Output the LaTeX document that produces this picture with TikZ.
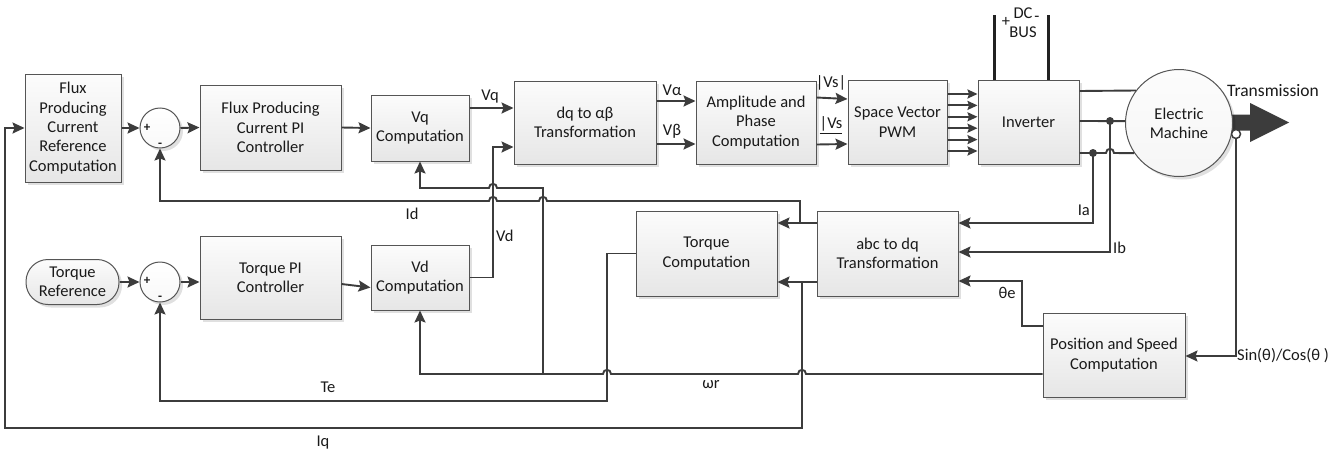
\documentclass[tikz,border=0pt]{standalone}
\usepackage{fontspec}
\setmainfont{Carlito}
\usetikzlibrary{arrows.meta,shadows,calc}
\definecolor{ln}{HTML}{3C3C3C}
\definecolor{bd}{HTML}{555555}
\definecolor{tx}{HTML}{1A1A1A}
\definecolor{ftop}{HTML}{FCFCFC}
\definecolor{fbot}{HTML}{E6E6E6}
\definecolor{busc}{HTML}{222222}

% line hops over a vertical line at x=#1 on a horizontal run at y=#2
\newcommand\hopL[2]{-- (#1+4,#2) .. controls (#1+4,#2-5.5) and (#1-4,#2-5.5) .. (#1-4,#2)}
\newcommand\hopR[2]{-- (#1-4,#2) .. controls (#1-4,#2-5.5) and (#1+4,#2-5.5) .. (#1+4,#2)}

\tikzset{
  txt/.style={font=\fontsize{16.5}{19.3}\selectfont, text=tx},
  lbl/.style={txt, inner sep=0pt},
  sgn/.style={font=\fontsize{13}{13}\selectfont\bfseries, text=tx, inner sep=0pt},
  shd/.style={drop shadow={shadow xshift=3pt, shadow yshift=-3pt, fill=black, opacity=0.12}},
  blk/.style={txt, draw=bd, line width=1pt, top color=ftop, bottom color=fbot,
              align=center, inner sep=2pt, shd},
  sumc/.style={circle, draw=bd, line width=1pt, top color=white, bottom color=ftop!85!fbot,
               minimum size=40pt, inner sep=0pt, shd},
  conn/.style={draw=ln, line width=1.9pt},
  arr/.style={conn, -{Stealth[length=12pt,width=11pt,inset=2pt]}},
  sarr/.style={conn, -{Stealth[length=10pt,width=9pt,inset=1.5pt]}},
  jdot/.style={circle, fill=ln, inner sep=0pt, minimum size=8pt},
  bus/.style={draw=busc, line width=3pt},
}

\begin{document}
\begin{tikzpicture}[x=1pt,y=-1pt]
\useasboundingbox (0,0) rectangle (1330,450);
\fill[white] (0,0) rectangle (1330,450);

% output shaft of the machine
\fill[ln] (1200,114.5) -- (1250,114.5) -- (1250,103) -- (1289,122.5)
          -- (1250,142) -- (1250,130.5) -- (1200,130.5) -- cycle;
\node[txt, font=\fontsize{17.5}{20}\selectfont, inner sep=0pt] (trl) at (1273,91) {Transmission};

% ---------- flux (d) channel ----------
\node[blk, minimum width=96pt, minimum height=108pt] (fref) at (73,128)
  {Flux\\Producing\\Current\\Reference\\Computation};
\node[sumc] (s1) at (160,128) {};
\node[sgn] (s1p) at (147,128) {+};
\node[sgn] (s1m) at (160,145) {-};
\node[blk, minimum width=141pt, minimum height=85pt] (fpi) at (270.5,127.5)
  {Flux Producing\\Current PI\\Controller};
\node[blk, minimum width=98pt, minimum height=66pt] (vq) at (420,128) {Vq\\Computation};
\node[blk, minimum width=142pt, minimum height=83pt] (dq) at (585,122.5) {dq to αβ\\Transformation};
\node[blk, minimum width=120pt, minimum height=83pt] (amp) at (756,122.5) {Amplitude and\\Phase\\Computation};
\node[blk, minimum width=99pt, minimum height=84pt] (svm) at (897.5,122) {Space Vector\\PWM};
\node[blk, minimum width=101pt, minimum height=84pt] (inv) at (1028.5,122) {Inverter};
\node[blk, circle, minimum size=107pt, inner sep=0pt, top color=ftop, bottom color=ftop!70!fbot] (em) at (1179,123) {Electric\\Machine};

% ---------- torque (q) channel ----------
\node[blk, rounded corners=22pt, minimum width=93pt, minimum height=45pt] (tref) at (72.5,282)
  {Torque\\Reference};
\node[sumc] (s2) at (160,282) {};
\node[sgn] (s2p) at (147,281) {+};
\node[sgn] (s2m) at (160,298) {-};
\node[blk, minimum width=141pt, minimum height=83pt] (tpi) at (270.5,277.5) {Torque PI\\Controller};
\node[blk, minimum width=98pt, minimum height=65pt] (vd) at (420,277.5) {Vd\\Computation};
\node[blk, minimum width=141pt, minimum height=85pt] (tc) at (706.5,253.5) {Torque\\Computation};
\node[blk, minimum width=141pt, minimum height=85pt] (abc) at (887.5,253.5) {abc to dq\\Transformation};
\node[blk, minimum width=142pt, minimum height=84pt] (pos) at (1114,355) {Position and Speed\\Computation};

% encoder tap on the shaft
\node[circle, draw=ln, fill=white, line width=1.5pt, minimum size=9pt, inner sep=0pt] (enc) at (1236,134) {};

% DC bus
\coordinate (dcp) at (994,15);
\coordinate (dcn) at (1048,15);
\draw[bus] (dcp) -- (dcp |- inv.north);
\draw[bus] (dcn) -- (dcn |- inv.north);
\node[lbl] (dcplus) at (1006,22) {+};
\node[lbl] (dcl) at (1023,13) {DC};
\node[lbl] (dcminus) at (1037,19) {-};
\node[lbl] (busl) at (1023,32) {BUS};

% ---------- forward path ----------
\draw[arr] (fref.east) -- (s1.west);
\draw[arr] (s1.east) -- (fpi.west);
\draw[arr] (fpi.east) -- (vq.west);
\draw[arr] ([yshift=20pt]vq.east) -- ([yshift=14.5pt]dq.west);
\node[lbl] (vql) at (490,97) {Vq};

\coordinate (vdup) at (493,147);
\draw[arr] (vd.east) -| (vdup) -- (vdup -| dq.west);
\node[lbl, anchor=west] (vdl) at (496,236) {Vd};

\draw[arr] ([yshift=21.5pt]dq.east) -- ([yshift=21.5pt]amp.west);
\draw[arr] ([yshift=-21.5pt]dq.east) -- ([yshift=-21.5pt]amp.west);
\node[lbl] (val) at (672,90) {Vα};
\node[lbl] (vbl) at (672,131) {Vβ};

\draw[arr] ([yshift=25pt]amp.east) -- ([yshift=23pt]svm.west);
\draw[arr] ([yshift=-22pt]amp.east) -- ([yshift=-22pt]svm.west);
\node[lbl] (vsm) at (831,83) {|Vs|};
\node[lbl] (vsa) at (831,125) {\underline{|Vs}};

\foreach \k in {0,...,5}
  \draw[sarr] ([yshift=28pt-\k*11.4pt]svm.east) -- ([yshift=28pt-\k*11.4pt]inv.west);

\draw[arr] (tref.east) -- (s2.west);
\draw[arr] (s2.east) -- (s2.east -| tpi.west);
\draw[arr] ([yshift=-6.5pt]tpi.east) -- ([yshift=-10pt]vd.west);

% inverter phases to the machine
\node[jdot] (ibj) at (1110,121) {};
\node[jdot] (iaj) at (1093,153) {};
\draw[conn] ([yshift=31pt]inv.east) -- (em.143);
\draw[conn] ([yshift=1pt]inv.east) -- (em.178);
\draw[conn] ([yshift=-31pt]inv.east) \hopR{1110}{153} -- (em.214);

% ---------- measurements ----------
\coordinate (iac) at (1093,223);
\draw[arr] (iaj.center) -- (iac) -- (iac -| abc.east);
\node[lbl, anchor=east] (ial) at (1090,210) {Ia};
\coordinate (ibc) at (1110,252);
\draw[arr] (ibj.center) -- (ibc) -- (ibc -| abc.east);
\node[lbl, anchor=west] (ibl) at (1113,248) {Ib};

\coordinate (scc) at (1236,356);
\draw[arr] (enc.south) -- (scc) -- (scc -| pos.east);
\node[lbl, anchor=west] (scl) at (1237,356) {Sin(θ)/Cos(θ )};

\coordinate (thc1) at (1022,326);
\coordinate (thc2) at (1022,281);
\draw[arr] (thc1 -| pos.west) -- (thc1) -- (thc2) -- (thc2 -| abc.east);
\node[lbl] (thl) at (1007,293) {θe};

\coordinate (idj) at (800,223);
\coordinate (iqj) at (802,282);
\draw[arr] (abc.west |- idj) -- (tc.east |- idj);
\draw[arr] (abc.west |- iqj) -- (tc.east |- iqj);

% ---------- feedback ----------
\coordinate (idc) at (800,201);
\draw[arr] (idj) -- (idc) \hopL{543}{201} \hopL{493}{201} -- (idc -| s1.south) -- (s1.south);
\node[lbl] (idl) at (412,214) {Id};

\coordinate (iqc) at (802,428);
\coordinate (iqw) at (5,428);
\draw[arr] (iqj) -- (iqc) -- (iqw) -- (iqw |- fref.west) -- (fref.west);
\node[lbl] (iql) at (323,443) {Iq};

\coordinate (tec) at (607,401);
\draw[arr] (tc.west) -| (tec) -- (tec -| s2.south) -- (s2.south);
\node[lbl] (tel) at (328,387) {Te};

\coordinate (wrc) at (420,374);
\draw[arr] (pos.west |- wrc) \hopL{802}{374} \hopL{607}{374} -- (wrc) -- (vd.south);
\node[lbl] (wrl) at (711,385) {ωr};

\coordinate (wrj) at (543,374);
\coordinate (wrb) at (543,188);
\draw[arr] (wrj) -- (wrb) \hopL{493}{188} -- (wrb -| vq.south) -- (vq.south);

\end{tikzpicture}
\end{document}
